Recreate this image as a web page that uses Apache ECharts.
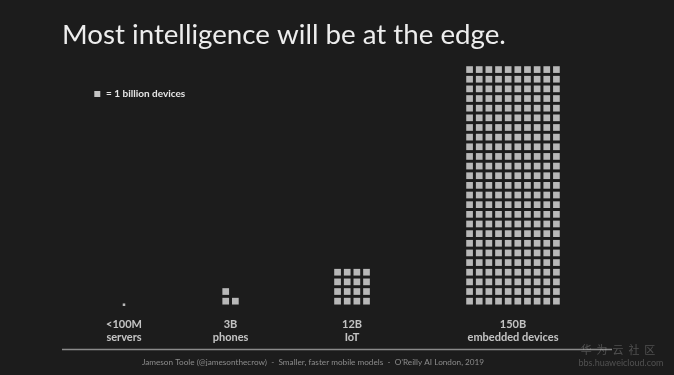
<!DOCTYPE html>
<html>
<head>
<meta charset="utf-8">
<script src="https://cdn.jsdelivr.net/npm/echarts@6/dist/echarts.min.js"></script>
<style>
html,body{margin:0;padding:0;background:#1c1c1c;}
#c{width:674px;height:375px;}
</style>
</head>
<body>
<div id="c"></div>
<script>
// ---- data (1 square = 1 billion devices) ----
const categories = ['servers', 'phones', 'IoT', 'embedded devices'];
const valueLabels = ['<100M', '3B', '12B', '150B'];
const squareCounts = [0.1, 3, 16, 250];     // squares as drawn in the picture
// ---- layout (cell units) ----
const columnsPerGroup = [1, 2, 4, 10];
const groupCenters = [12.85, 23.89, 36.48, 53.16];

const CELL_PX = 9.65;
const SQUARE_PX = 6.7;

const squares = [];
squareCounts.forEach(function (n, g) {
  const C = columnsPerGroup[g];
  if (n < 1) {
    const f = Math.sqrt(n) * 1.2;
    squares.push([groupCenters[g], f * (SQUARE_PX / CELL_PX) / 2, SQUARE_PX * f]);
    return;
  }
  for (let i = 0; i < n; i++) {
    const col = i % C;
    const row = Math.floor(i / C);
    squares.push([groupCenters[g] + col - (C - 1) / 2, row + 0.5, SQUARE_PX]);
  }
});
const labelPoints = groupCenters.map(function (x, g) { return [x, -2.6, g]; });

const chart = echarts.init(document.getElementById('c'), null, {renderer: 'canvas'});
chart.setOption({
  backgroundColor: '#1c1c1c',
  animation: false,
  title: {
    text: 'Most intelligence will be at the edge.',
    left: 57, top: 16,
    textStyle: {fontFamily: 'Lato', fontSize: 27.7, fontWeight: 'normal', color: '#ededed'}
  },
  grid: {left: 0, right: 0, top: 64.75, bottom: 69},
  xAxis: {type: 'value', min: 0, max: 674 / CELL_PX, show: false},
  yAxis: {type: 'value', min: 0, max: 25, show: false},
  series: [
    {
      type: 'scatter', clip: false, silent: true,
      symbol: 'rect',
      symbolSize: function (d) { return d[2]; },
      itemStyle: {color: '#e0e0e0'},
      data: squares
    },
    {
      type: 'scatter', clip: false, silent: true,
      symbolSize: 1,
      itemStyle: {color: 'rgba(0,0,0,0)'},
      label: {
        show: true, position: 'inside',
        fontFamily: 'Lato', fontSize: 11, fontWeight: 'bold', color: '#eeeeee',
        lineHeight: 12.5, align: 'center',
        formatter: function (p) { return valueLabels[p.data[2]] + '\n' + categories[p.data[2]]; }
      },
      data: labelPoints
    }
  ],
  graphic: [
    {type: 'rect', shape: {x: 94.3, y: 91, width: 6, height: 6}, style: {fill: '#c4c4c4'}},
    {type: 'text', x: 106, y: 94, style: {text: '= 1 billion devices', fontFamily: 'Lato', fontSize: 10, fontWeight: 'bold', fill: '#e6e6e6', verticalAlign: 'middle'}},
    {type: 'line', shape: {x1: 62, y1: 349.5, x2: 612, y2: 349.5}, style: {stroke: '#8a8a8a', lineWidth: 1.5}},
    {type: 'text', x: 313, y: 362, style: {text: 'Jameson Toole (@jamesonthecrow)  -  Smaller, faster mobile models  -  O\u2019Reilly AI London, 2019', fontFamily: 'Lato', fontSize: 8.2, fill: '#8c8c8c', align: 'center', verticalAlign: 'middle'}},
    {type: 'text', x: 618, y: 350, style: {text: '华  为  云  社  区', fontFamily: 'Noto Sans CJK SC', fontSize: 11, fill: 'rgba(200,200,200,0.3)', align: 'center', verticalAlign: 'middle'}},
    {type: 'text', x: 621, y: 363, style: {text: 'bbs.huaweicloud.com', fontFamily: 'Lato', fontSize: 9, fill: 'rgba(200,200,200,0.3)', align: 'center', verticalAlign: 'middle'}}
  ]
});
</script>
</body>
</html>
